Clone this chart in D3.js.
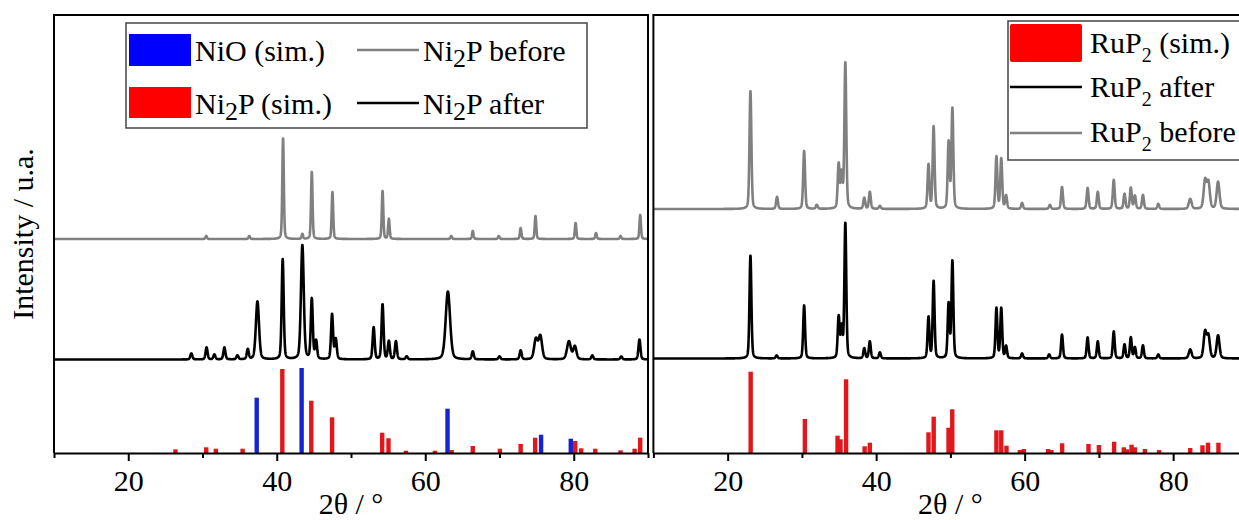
<!DOCTYPE html>
<html>
<head>
<meta charset="utf-8">
<script src="https://cdn.jsdelivr.net/npm/d3@7"></script>
<style>
  body { margin: 0; background: #fff; }
  svg text { font-family: "Liberation Serif", "Times New Roman", serif; fill: #000; }
</style>
</head>
<body>
<div id="chart"></div>
<script>
// x axis ticks (2theta, deg)
var xDomain = [10, 90];
var majorTicks = [20, 40, 60, 80];
var minorTicks = [10, 30, 50, 70, 90];

// Ni2P panel, peaks as [2theta, height (a.u.), fwhm]
var ni2pBefore = [
  [30.5, 3], [36.3, 3], [40.85, 101], [43.45, 5], [44.72, 67], [47.5, 47],
  [54.25, 48], [55.1, 20], [63.5, 3], [66.4, 8], [69.9, 3], [72.85, 11],
  [74.85, 23], [80.25, 16], [83.0, 6], [86.3, 3], [88.95, 24]
];
var ni2pAfter = [
  [28.5, 6], [30.55, 12], [31.6, 5], [32.95, 12], [34.7, 4], [36.1, 10],
  [37.4, 58, 0.5], [40.8, 100], [43.45, 114, 0.45], [44.72, 60], [45.3, 18],
  [47.45, 45], [47.95, 20], [53.05, 32], [54.25, 55], [55.1, 18], [56.05, 18],
  [57.5, 3], [63.05, 68, 0.7], [66.4, 8], [70.0, 3], [72.85, 9], [74.9, 20, 0.55],
  [75.5, 23, 0.55], [79.35, 18, 0.6], [80.15, 13, 0.5], [82.5, 4], [86.4, 3], [88.85, 20]
];
var ni2pSim = [
  [26.36, 3.7], [30.5, 5.7], [31.8, 4.3], [35.4, 4.3], [40.75, 84], [44.65, 52.3],
  [47.45, 35.7], [54.2, 20.3], [55.05, 14.7], [57.4, 2.3], [61.3, 2.3], [63.55, 3],
  [66.4, 7], [70.05, 4.3], [72.85, 9], [74.8, 15.3], [80.2, 12], [81.0, 4.7],
  [82.9, 4.3], [86.3, 2.7], [88.2, 4.3], [88.95, 15.3]
];
var nioSim = [
  [37.3, 55.3], [43.35, 85], [63.0, 44.3], [75.6, 18.3], [79.6, 14.3]
];

// RuP2 panel
var rup2Before = [
  [23.07, 118], [26.65, 12], [30.3, 58], [32.0, 4], [34.95, 44], [35.35, 34],
  [35.85, 146], [38.4, 11], [39.15, 17], [40.5, 3], [47.05, 44], [47.74, 82],
  [49.76, 66], [50.27, 100], [56.2, 52], [56.85, 50], [57.5, 13], [59.65, 6],
  [63.4, 4], [65.03, 22], [68.48, 21], [69.85, 17], [72.0, 29], [73.45, 15],
  [74.3, 21], [74.85, 13], [75.93, 14], [78.0, 5], [82.3, 10, 0.45],
  [84.3, 28, 0.45], [84.75, 26, 0.45], [86.05, 27, 0.45]
];
var rup2After = [
  [23.07, 103], [26.6, 3], [30.3, 53], [34.95, 41], [35.35, 30], [35.85, 135],
  [38.4, 10], [39.15, 17], [40.5, 6], [47.05, 41], [47.74, 77], [49.76, 54],
  [50.27, 97], [56.2, 50], [56.85, 50], [57.5, 12], [59.65, 5], [63.3, 4],
  [65.03, 24], [68.48, 21], [69.85, 17], [72.0, 27], [73.45, 14], [74.3, 21],
  [74.85, 11], [75.93, 13], [78.0, 4], [82.3, 9, 0.45], [84.3, 26, 0.45],
  [84.75, 22, 0.45], [86.05, 23, 0.45]
];
var rup2Sim = [
  [23.1, 81.3], [30.4, 34], [34.8, 17.3], [35.2, 13.7], [35.95, 73.7], [38.45, 6.7],
  [39.15, 10.3], [47.05, 20.7], [47.75, 36.3], [49.75, 25.3], [50.25, 43.7],
  [56.2, 22.7], [56.85, 22.7], [57.55, 7.3], [59.35, 3], [59.9, 4], [63.15, 4],
  [63.6, 3], [65.05, 9.7], [68.6, 9], [70.0, 8], [72.05, 11.3], [73.35, 5.7],
  [73.8, 3.7], [74.4, 8.3], [74.85, 5.7], [76.2, 4], [78.1, 3], [82.3, 5],
  [83.95, 7.7], [84.7, 10.3], [86.1, 10.3]
];

// trace baselines (a.u. above the x axis)
var ni2pOffsets = { before: 214, after: 93.5 };
var rup2Offsets = { before: 244, after: 94.5 };

var W = 1239, H = 520;
var plotTop = 15, plotBottom = 453, panelW = 594;
var serif = '"Liberation Serif", "Times New Roman", serif';

var svg = d3.select('#chart').append('svg')
  .attr('width', W)
  .attr('height', H)
  .attr('font-family', serif);

// pseudo-Voigt sum of the read peaks
function pattern(peaks, base, fwhm) {
  var pts = [];
  for (var i = 0; i <= 4000; i++) {
    var t = xDomain[0] + i * 0.02;
    var v = base;
    peaks.forEach(function(p){
      var hw = (p[2] || fwhm) / 2;
      var u = (t - p[0]) / hw;
      v += p[1] * (0.3 / (1 + u * u) + 0.7 * Math.exp(-Math.LN2 * u * u));
    });
    pts.push([t, v]);
  }
  return pts;
}

function drawPanel(opt) {
  var x = d3.scaleLinear().domain(xDomain).range([opt.left, opt.left + panelW]);
  var y = d3.scaleLinear().domain([0, plotBottom - plotTop]).range([plotBottom, plotTop]);
  var g = svg.append('g');

  // sticks
  opt.sticks.forEach(function(s){
    g.append('g').selectAll('rect')
      .data(s.data)
      .enter().append('rect')
      .attr('x', function(d){ return x(d[0]) - 2.2; })
      .attr('width', 4.4)
      .attr('y', function(d){ return y(d[1]); })
      .attr('height', function(d){ return y(0) - y(d[1]); })
      .attr('fill', s.color);
  });

  var line = d3.line()
    .x(function(d){ return x(d[0]); })
    .y(function(d){ return y(d[1]); });

  opt.traces.forEach(function(tr){
    g.append('path')
      .datum(pattern(tr.peaks, tr.base, tr.fwhm))
      .attr('d', line)
      .attr('fill', 'none')
      .attr('stroke', tr.color)
      .attr('stroke-width', 2.6)
      .attr('stroke-linejoin', 'round');
  });

  // frame (left, top, right)
  g.append('path')
    .attr('d', 'M' + x(10) + ',' + plotBottom + 'V' + plotTop + 'H' + x(90) + 'V' + plotBottom)
    .attr('fill', 'none')
    .attr('stroke', '#000')
    .attr('stroke-width', 2);

  // x axis
  var ax = g.append('g')
    .attr('transform', 'translate(0,' + plotBottom + ')')
    .call(d3.axisBottom(x).tickValues(majorTicks).tickSizeInner(8).tickSizeOuter(0)
      .tickPadding(9).tickFormat(d3.format('d')));
  ax.attr('font-family', serif).attr('font-size', 30);
  ax.select('.domain').attr('stroke-width', 2);
  ax.selectAll('.tick line').attr('stroke-width', 2);

  var minor = g.append('g')
    .attr('transform', 'translate(0,' + plotBottom + ')')
    .call(d3.axisBottom(x).tickValues(minorTicks).tickSize(5).tickFormat(''));
  minor.select('.domain').remove();
  minor.selectAll('.tick line').attr('stroke-width', 2);

  g.append('text')
    .attr('x', x(50))
    .attr('y', 514)
    .attr('text-anchor', 'middle')
    .attr('font-size', 30)
    .text('2θ / °');

  return g;
}

drawPanel({
  left: 54,
  sticks: [{ data: ni2pSim, color: '#e3161b' }, { data: nioSim, color: '#1424d4' }],
  traces: [
    { peaks: ni2pBefore, base: ni2pOffsets.before, fwhm: 0.24, color: '#808080' },
    { peaks: ni2pAfter, base: ni2pOffsets.after, fwhm: 0.32, color: '#000' }
  ]
});

drawPanel({
  left: 653.4,
  sticks: [{ data: rup2Sim, color: '#e3161b' }],
  traces: [
    { peaks: rup2Before, base: rup2Offsets.before, fwhm: 0.3, color: '#808080' },
    { peaks: rup2After, base: rup2Offsets.after, fwhm: 0.3, color: '#000' }
  ]
});

// y label
svg.append('text')
  .attr('transform', 'translate(33,234) rotate(-90)')
  .attr('text-anchor', 'middle')
  .attr('font-size', 30)
  .text('Intensity / u.a.');

// left legend
var lg = svg.append('g');
lg.append('rect').attr('x', 126).attr('y', 23).attr('width', 461).attr('height', 105)
  .attr('fill', '#fff').attr('stroke', '#444').attr('stroke-width', 1.5);
lg.append('rect').attr('x', 129).attr('y', 34).attr('width', 62).attr('height', 32).attr('fill', '#0000ff');
lg.append('rect').attr('x', 129).attr('y', 87).attr('width', 62).attr('height', 31).attr('fill', '#ff0000');
lg.append('line').attr('x1', 357).attr('x2', 419).attr('y1', 50).attr('y2', 50)
  .attr('stroke', '#808080').attr('stroke-width', 2.5);
lg.append('line').attr('x1', 357).attr('x2', 419).attr('y1', 103).attr('y2', 103)
  .attr('stroke', '#000').attr('stroke-width', 2.5);

function subLabel(parent, xx, yy, pre, post, subSize, subDy) {
  var t = parent.append('text').attr('x', xx).attr('y', yy).attr('font-size', 30);
  t.append('tspan').text(pre);
  t.append('tspan').attr('font-size', subSize).attr('dy', subDy).text('2');
  t.append('tspan').attr('dy', -subDy).text(post);
  return t;
}

lg.append('text').attr('x', 195).attr('y', 61).attr('font-size', 30).text('NiO (sim.)');
subLabel(lg, 195, 114, 'Ni', 'P (sim.)', 26, 6);
subLabel(lg, 423, 61, 'Ni', 'P before', 26, 6);
subLabel(lg, 423, 114, 'Ni', 'P after', 26, 6);

// right legend
var rg = svg.append('g');
rg.append('rect').attr('x', 1008).attr('y', 21).attr('width', 300).attr('height', 139)
  .attr('fill', '#fff').attr('stroke', '#444').attr('stroke-width', 1.5);
rg.append('rect').attr('x', 1010).attr('y', 24).attr('width', 72).attr('height', 38)
  .attr('rx', 2).attr('fill', '#ff0000');
rg.append('line').attr('x1', 1010).attr('x2', 1082).attr('y1', 87).attr('y2', 87)
  .attr('stroke', '#000').attr('stroke-width', 2.5);
rg.append('line').attr('x1', 1010).attr('x2', 1082).attr('y1', 133).attr('y2', 133)
  .attr('stroke', '#808080').attr('stroke-width', 2.5);
subLabel(rg, 1090, 53, 'RuP', ' (sim.)', 20, 9);
subLabel(rg, 1090, 97, 'RuP', ' after', 20, 9);
subLabel(rg, 1090, 142, 'RuP', ' before', 20, 9);
</script>
</body>
</html>
